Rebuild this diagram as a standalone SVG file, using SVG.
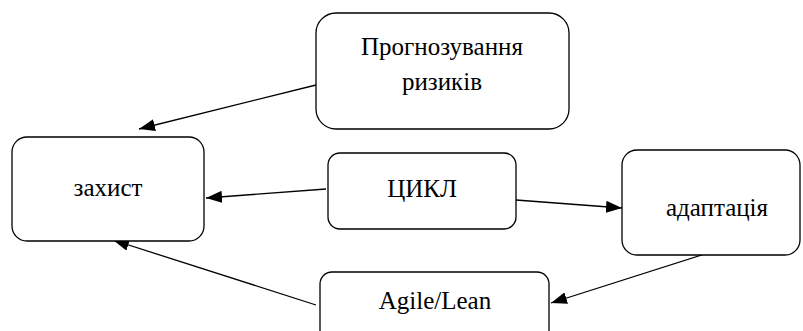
<svg xmlns="http://www.w3.org/2000/svg" width="803" height="331" viewBox="0 0 803 331">
  <style>
    .box { fill: #ffffff; stroke: #000000; stroke-width: 1.3; }
    .lbl { font-family: 'Liberation Serif', 'Times New Roman', 'DejaVu Serif', serif; font-size: 25px; fill: #000000; text-anchor: middle; }
    .edge { stroke: #000000; stroke-width: 1.3; fill: none; marker-end: url(#head); }
  </style>
  <defs>
    <marker id="head" viewBox="0 0 16 12" refX="16" refY="6" markerWidth="16" markerHeight="12" markerUnits="userSpaceOnUse" orient="auto">
      <path d="M0,0 L16,6 L0,12 Z" fill="#000000"/>
    </marker>
  </defs>

  <g id="connectors">
    <line class="edge" x1="316" y1="85" x2="139" y2="129"/>
    <line class="edge" x1="326" y1="189" x2="206" y2="198"/>
    <line class="edge" x1="516" y1="200" x2="622" y2="208"/>
    <line class="edge" x1="705" y1="254" x2="551" y2="303"/>
    <line class="edge" x1="316" y1="305" x2="113" y2="240"/>
  </g>

  <g id="node-prognoz">
    <rect class="box" x="316" y="13" width="253" height="116" rx="20" ry="20"/>
    <text class="lbl" x="442" y="55">Прогнозування</text>
    <text class="lbl" x="442" y="90">ризиків</text>
  </g>

  <g id="node-zakhyst">
    <rect class="box" x="12" y="137" width="192" height="104" rx="15" ry="15"/>
    <text class="lbl" x="108" y="196">захист</text>
  </g>

  <g id="node-tsykl">
    <rect class="box" x="328" y="153" width="188" height="76" rx="12" ry="12"/>
    <text class="lbl" x="422" y="197">ЦИКЛ</text>
  </g>

  <g id="node-adaptatsiia">
    <rect class="box" x="622" y="150" width="178" height="105" rx="15" ry="15"/>
    <text class="lbl" x="717" y="216">адаптація</text>
  </g>

  <g id="node-agile">
    <rect class="box" x="320" y="272" width="229" height="75" rx="12" ry="12"/>
    <text class="lbl" x="435" y="309">Agile/Lean</text>
  </g>
</svg>
